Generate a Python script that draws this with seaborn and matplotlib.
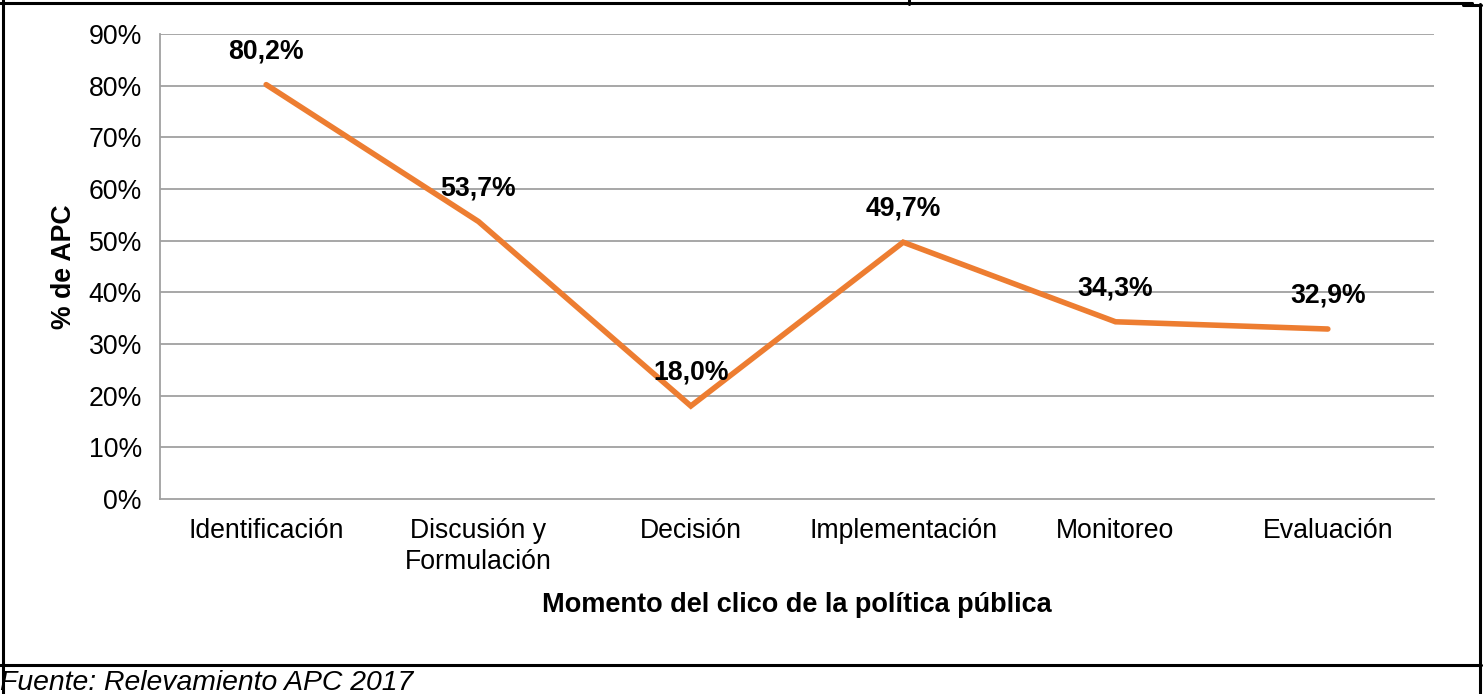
import matplotlib
matplotlib.use("Agg")
import matplotlib.pyplot as plt
from matplotlib.lines import Line2D
from matplotlib.ticker import FixedLocator, FuncFormatter
import seaborn as sns
import pandas as pd

categories = ["Identificación", "Discusión y\nFormulación", "Decisión",
              "Implementación", "Monitoreo", "Evaluación"]
values = [80.2, 53.7, 18.0, 49.7, 34.3, 32.9]
value_labels = ["80,2%", "53,7%", "18,0%", "49,7%", "34,3%", "32,9%"]
y_ticks = [0, 10, 20, 30, 40, 50, 60, 70, 80, 90]

sns.set_theme(style="white")
plt.rcParams["font.family"] = ["Liberation Sans", "DejaVu Sans"]
plt.rcParams["text.color"] = "black"
plt.rcParams["axes.labelcolor"] = "black"
plt.rcParams["xtick.labelcolor"] = "black"
plt.rcParams["ytick.labelcolor"] = "black"

FS = 19.2
W, H = 1484, 694
fig = plt.figure(figsize=(W / 100, H / 100), dpi=100)
ax = fig.add_axes([160 / W, 1 - 499 / H, (1434 - 160) / W, (499 - 34) / H])

df = pd.DataFrame({"x": range(len(categories)), "y": values})
sns.lineplot(data=df, x="x", y="y", ax=ax, color="#ED7D31", linewidth=4.0,
             solid_joinstyle="miter")

grid_c = "#A0A0A0"
ax.set_xlim(-0.5, len(categories) - 0.5)
ax.set_ylim(0, 90)
ax.yaxis.set_major_locator(FixedLocator(y_ticks))
ax.yaxis.set_major_formatter(FuncFormatter(lambda v, p: f"{int(v)}%"))
ax.set_xticks(range(len(categories)))
ax.set_xticklabels(categories, fontsize=FS, linespacing=1.25)
ax.xaxis.set_minor_locator(FixedLocator([i - 0.5 for i in range(len(categories) + 1)]))
ax.tick_params(axis="x", which="major", length=0, pad=14)
ax.tick_params(axis="x", which="minor", length=7, width=1.2, direction="out")
ax.tick_params(axis="y", which="major", length=7, width=1.2,
               direction="out", labelsize=FS, pad=6)
ax.tick_params(axis="both", which="both", color=grid_c, labelcolor="black")
for v in y_ticks[1:]:
    ax.axhline(v, color=grid_c, linewidth=1.3, zorder=0)
for s in ["top", "right"]:
    ax.spines[s].set_visible(False)
for s in ["left", "bottom"]:
    ax.spines[s].set_color(grid_c)
    ax.spines[s].set_linewidth(1.3)

for i, (v, lab) in enumerate(zip(values, value_labels)):
    ax.annotate(lab, (i, v), xytext=(0, 24), textcoords="offset points",
                ha="center", va="center", fontsize=FS, fontweight="bold",
                color="black")

ax.set_xlabel("Momento del clico de la política pública", fontsize=19.5,
              fontweight="bold", labelpad=12, color="black")
ax.set_ylabel("% de APC", fontsize=FS, fontweight="bold", labelpad=8,
              color="black")

fig.text(0 / W, 1 - 683 / H, "Fuente: Relevamiento APC 2017", fontsize=20.4,
         fontstyle="italic", ha="left", va="center", color="black")

def hline(x0, x1, y, lw=2.2):
    fig.add_artist(Line2D([x0 / W, x1 / W], [1 - y / H, 1 - y / H],
                          transform=fig.transFigure, color="black", linewidth=lw))

def vline(x, y0, y1, lw=2.2):
    fig.add_artist(Line2D([x / W, x / W], [1 - y0 / H, 1 - y1 / H],
                          transform=fig.transFigure, color="black", linewidth=lw))

hline(0, 1472, 2.5)
hline(1463, 1481, 5)
vline(3, 0, 694)
vline(1479.5, 4, 694)
vline(908.5, 0, 4)
hline(0, 1481, 664.5)

fig.savefig("out.png", dpi=100)
